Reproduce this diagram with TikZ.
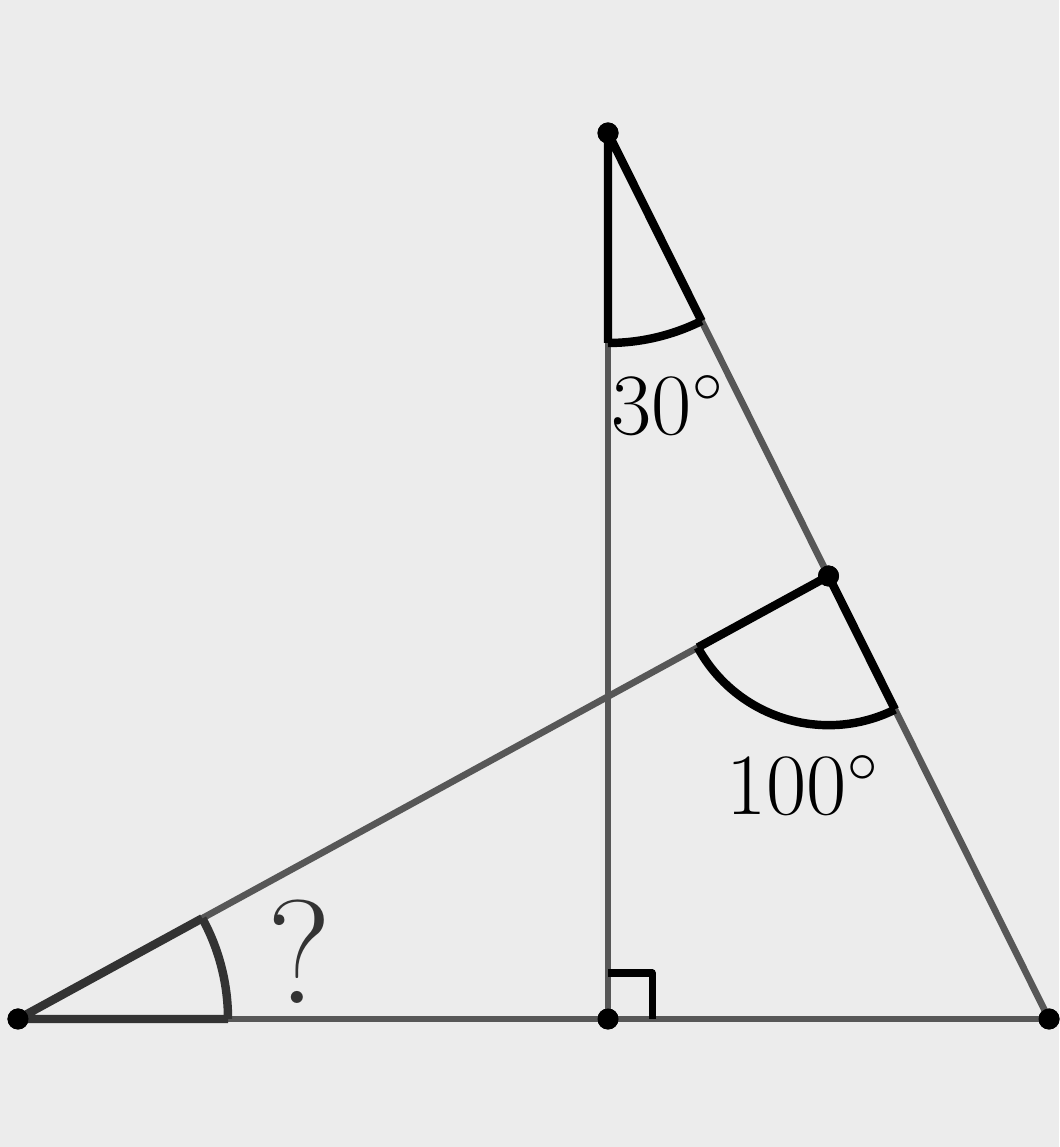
\documentclass[tikz,border=0pt]{standalone}
\usepackage{amsmath}
\usepackage{tikz}
\usetikzlibrary{calc,positioning}

\definecolor{bgcol}{HTML}{ECECEC}
\definecolor{linecol}{HTML}{575757}
\definecolor{qcol}{HTML}{333333}

\begin{document}
\begin{tikzpicture}[
    side/.style={draw=linecol, line width=1.9pt},
    anglemark/.style={draw=black, line width=2.4pt, line join=round},
    qmark/.style={draw=qcol, line width=2.4pt, line join=round},
    pt/.style={circle, fill=black, inner sep=0pt, minimum size=0.21cm}]
   \fill[bgcol] (0,0) rectangle (10.59,11.47);
   \useasboundingbox (0,0) rectangle (10.59,11.47);

   \node[pt] (t) at (6.08,10.14) {};
   \node[pt] (f) at (6.08,1.28) {};
   \node[pt] (l) at (0.18,1.28) {};
   \node[pt] (r) at (10.49,1.28) {};
   \node[pt] (m) at ($(t.center)!0.5!(r.center)$) {};

   \node[] (a30) at (6.68,7.42) {\fontsize{25}{30}\selectfont $30^\circ$};
   \node[] (a100) at (8.03,3.62) {\fontsize{25}{30}\selectfont $100^\circ$};
   \node[text=qcol] (aq) at (2.99,1.95) {\fontsize{42}{48}\selectfont ?};

  \path[side]
    (l.center) edge node {} (r.center)
    (t.center) edge node {} (f.center)
               edge node {} (r.center)
    (l.center) edge node {} (m.center);

  %right angle
  \draw[anglemark, line width=2pt] ($(f.center)+(0,0.46)$) -- ($(f.center)+(0.44,0.46)$) -- ($(f.center)+(0.44,0)$);

  %angle at top
  \draw[anglemark] ($(t.center)!2.1cm!(f.center)$) -- (t.center) -- ($(t.center)!2.1cm!(r.center)$);
  \draw[anglemark] ($(t.center)!2.1cm!(f.center)$) arc[start angle=-90, end angle=-63.54, radius=2.1cm];

  %angle at mid
  \draw[anglemark] ($(m.center)!1.49cm!(l.center)$) -- (m.center) -- ($(m.center)!1.49cm!(r.center)$);
  \draw[anglemark] ($(m.center)!1.49cm!(l.center)$) arc[start angle=208.59, end angle=296.46, radius=1.49cm];

  %angle at left
  \draw[qmark] ($(l.center)!2.1cm!(m.center)$) -- (l.center) -- ($(l.center)!2.1cm!(r.center)$);
  \draw[qmark] ($(l.center)!2.1cm!(r.center)$) arc[start angle=0, end angle=28.59, radius=2.1cm];

  \foreach \p in {t,f,l,r,m} \node[pt] at (\p) {};
\end{tikzpicture}
\end{document}
